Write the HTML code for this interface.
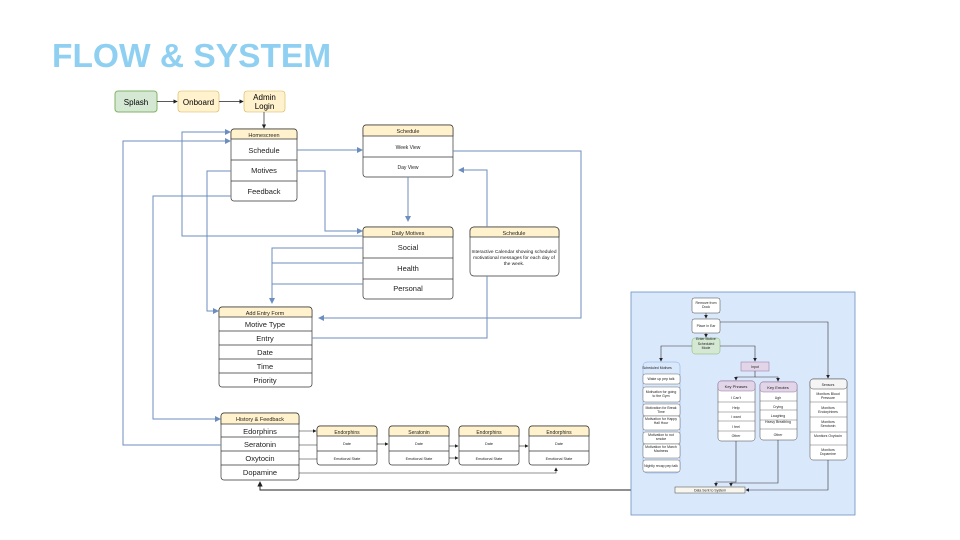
<!DOCTYPE html>
<html><head><meta charset="utf-8"><style>
html,body{margin:0;padding:0;background:#fff;}
svg{display:block;font-family:"Liberation Sans",sans-serif;}
</style></head><body>
<svg width="960" height="540" viewBox="0 0 960 540" xmlns="http://www.w3.org/2000/svg">
<defs>
<marker id="ab" markerWidth="6" markerHeight="6" refX="5" refY="3" orient="auto"><path d="M0,0 L6,3 L0,6 z" fill="#6c8ebf"/></marker>
<marker id="ak" markerWidth="6" markerHeight="6" refX="5" refY="3" orient="auto"><path d="M0,0 L6,3 L0,6 z" fill="#222"/></marker>
</defs>
<text x="52" y="67" font-size="33.5" font-weight="bold" fill="#8fd0f2">FLOW &amp; SYSTEM</text>

<rect x="115" y="91" width="42" height="21" rx="3" fill="#d5e8d4" stroke="#82b366"/>
<text x="136" y="105" font-size="8" text-anchor="middle">Splash</text>
<rect x="178" y="91" width="41" height="21" rx="3" fill="#fff2cc" stroke="#d6b656" stroke-width="0.6"/>
<text x="198.5" y="105" font-size="8" text-anchor="middle">Onboard</text>
<rect x="244" y="91" width="41" height="21" rx="3" fill="#fff2cc" stroke="#d6b656" stroke-width="0.6"/>
<text x="264.5" y="100" font-size="8" text-anchor="middle">Admin</text>
<text x="264.5" y="109" font-size="8" text-anchor="middle">Login</text>
<g stroke="#222" stroke-width="0.7" fill="none">
<line x1="157" y1="101.5" x2="177" y2="101.5" marker-end="url(#ak)"/>
<line x1="219" y1="101.5" x2="243" y2="101.5" marker-end="url(#ak)"/>
<line x1="264" y1="112" x2="264" y2="128" marker-end="url(#ak)"/>
</g>

<g stroke="#333" stroke-width="0.7" fill="#fff">
<rect x="231" y="129" width="66" height="72" rx="3"/>
<path d="M231,139 V132 a3,3 0 0 1 3,-3 H294 a3,3 0 0 1 3,3 V139 Z" fill="#fff2cc"/>
<line x1="231" y1="160" x2="297" y2="160"/><line x1="231" y1="181" x2="297" y2="181"/>
<rect x="363" y="125" width="90" height="52" rx="3"/>
<path d="M363,136 V128 a3,3 0 0 1 3,-3 H450 a3,3 0 0 1 3,3 V136 Z" fill="#fff2cc"/>
<line x1="363" y1="157" x2="453" y2="157"/>
<rect x="363" y="227" width="90" height="72" rx="3"/>
<path d="M363,237 V230 a3,3 0 0 1 3,-3 H450 a3,3 0 0 1 3,3 V237 Z" fill="#fff2cc"/>
<line x1="363" y1="258" x2="453" y2="258"/><line x1="363" y1="279" x2="453" y2="279"/>
<rect x="470" y="227" width="89" height="49" rx="4"/>
<path d="M470,237 V231 a4,4 0 0 1 4,-4 H555 a4,4 0 0 1 4,4 V237 Z" fill="#fff2cc"/>
<rect x="219" y="307" width="93" height="80" rx="3"/>
<path d="M219,317 V310 a3,3 0 0 1 3,-3 H309 a3,3 0 0 1 3,3 V317 Z" fill="#fff2cc"/>
<line x1="219" y1="331" x2="312" y2="331"/><line x1="219" y1="345" x2="312" y2="345"/><line x1="219" y1="359" x2="312" y2="359"/><line x1="219" y1="373" x2="312" y2="373"/>
<rect x="221" y="413" width="78" height="67" rx="3"/>
<path d="M221,424 V416 a3,3 0 0 1 3,-3 H296 a3,3 0 0 1 3,3 V424 Z" fill="#fff2cc"/>
<line x1="221" y1="437" x2="299" y2="437"/><line x1="221" y1="451" x2="299" y2="451"/><line x1="221" y1="465" x2="299" y2="465"/>
<rect x="317" y="426" width="60" height="39" rx="3"/><path d="M317,436 V429 a3,3 0 0 1 3,-3 H374 a3,3 0 0 1 3,3 V436 Z" fill="#fff2cc"/><line x1="317" y1="451" x2="377" y2="451"/>
<rect x="389" y="426" width="60" height="39" rx="3"/><path d="M389,436 V429 a3,3 0 0 1 3,-3 H446 a3,3 0 0 1 3,3 V436 Z" fill="#fff2cc"/><line x1="389" y1="451" x2="449" y2="451"/>
<rect x="459" y="426" width="60" height="39" rx="3"/><path d="M459,436 V429 a3,3 0 0 1 3,-3 H516 a3,3 0 0 1 3,3 V436 Z" fill="#fff2cc"/><line x1="459" y1="451" x2="519" y2="451"/>
<rect x="529" y="426" width="60" height="39" rx="3"/><path d="M529,436 V429 a3,3 0 0 1 3,-3 H586 a3,3 0 0 1 3,3 V436 Z" fill="#fff2cc"/><line x1="529" y1="451" x2="589" y2="451"/>
</g>

<g font-size="7.5" text-anchor="middle" fill="#222">
<text x="264" y="137" font-size="5.5">Homescreen</text>
<text x="264" y="153">Schedule</text><text x="264" y="173">Motives</text><text x="264" y="194">Feedback</text>
<text x="408" y="133" font-size="5.5">Schedule</text>
<text x="408" y="149" font-size="5">Week View</text><text x="408" y="169" font-size="5">Day View</text>
<text x="408" y="235" font-size="5.5">Daily Motives</text>
<text x="408" y="250">Social</text><text x="408" y="271">Health</text><text x="408" y="291">Personal</text>
<text x="514" y="235" font-size="5.5">Schedule</text>
<text x="514" y="253" font-size="4.8">Interactive Calendar showing scheduled</text>
<text x="514" y="259" font-size="4.8">motivational messages for each day of</text>
<text x="514" y="265" font-size="4.8">the week.</text>
<text x="265" y="315" font-size="5.5">Add Entry Form</text>
<text x="265" y="327">Motive Type</text><text x="265" y="341">Entry</text><text x="265" y="355">Date</text><text x="265" y="369">Time</text><text x="265" y="383">Priority</text>
<text x="260" y="421" font-size="5.5">History &amp; Feedback</text>
<text x="260" y="434">Edorphins</text><text x="260" y="447">Seratonin</text><text x="260" y="461">Oxytocin</text><text x="260" y="475">Dopamine</text>
<g font-size="5"><text x="347" y="434">Endorphins</text><text x="419" y="434">Seratonin</text><text x="489" y="434">Endorphins</text><text x="559" y="434">Endorphins</text></g>
<g font-size="3.8"><text x="347" y="445">Date</text><text x="419" y="445">Date</text><text x="489" y="445">Date</text><text x="559" y="445">Date</text>
<text x="347" y="460">Emotional State</text><text x="419" y="460">Emotional State</text><text x="489" y="460">Emotional State</text><text x="559" y="460">Emotional State</text></g>
</g>

<g stroke="#6c8ebf" stroke-width="1" fill="none">
<path d="M297,150 H362" marker-end="url(#ab)"/>
<path d="M408,177 V221" marker-end="url(#ab)"/>
<path d="M363,236 H182 V132 H230" marker-end="url(#ab)"/>
<path d="M123,290 V141 H230" marker-end="url(#ab)"/>
<path d="M297,171 H325 V231 H362" marker-end="url(#ab)"/>
<path d="M231,171 H207 V311 H218" marker-end="url(#ab)"/>
<path d="M231,196 H153 V419 H220" marker-end="url(#ab)"/>
<path d="M123,290 V445 H221"/>
<path d="M363,248 H272 V303" marker-end="url(#ab)"/>
<path d="M363,263 H272"/>
<path d="M363,284 H272"/>
<path d="M453,151 H581 V318 H319" marker-end="url(#ab)"/>
<path d="M487,227 V170 H459" marker-end="url(#ab)"/>
<path d="M487,276 V338 H312"/>
</g>
<g stroke="#222" stroke-width="0.6" fill="none">
<path d="M299,431 H316" marker-end="url(#ak)"/>
<path d="M299,445 H317"/><path d="M299,459 H317"/>
<path d="M377,444 H388" marker-end="url(#ak)"/>
<path d="M449,446 H458" marker-end="url(#ak)"/><path d="M449,458 H458" marker-end="url(#ak)"/>
<path d="M519,446 H528" marker-end="url(#ak)"/>
<path d="M299,473 H556 V468" marker-end="url(#ak)"/>
<path d="M675,490 H260 V482" stroke-width="0.9" marker-end="url(#ak)"/>
</g>

<rect x="631" y="292" width="224" height="223" fill="#dae8fc" stroke="#6c8ebf" stroke-width="0.8"/>
<g stroke="#444" stroke-width="0.5" fill="#fff">
<rect x="692" y="298" width="28" height="15" rx="2"/>
<rect x="692" y="319" width="28" height="14" rx="2"/>
<rect x="692" y="338" width="28" height="16" rx="3" fill="#d5e8d4" stroke="#82b366"/>
<rect x="643" y="362" width="37" height="111" rx="4" fill="#dae8fc" stroke="#7ea6e0"/>
<rect x="741" y="362" width="28" height="9" fill="#e1d5e7" stroke="#9673a6"/>
<rect x="718" y="381" width="37" height="60" rx="3"/>
<rect x="718" y="381" width="37" height="10" rx="3" fill="#e1d5e7" stroke="#9673a6"/>
<rect x="760" y="382" width="37" height="58" rx="3"/>
<rect x="760" y="382" width="37" height="10" rx="3" fill="#e1d5e7" stroke="#9673a6"/>
<rect x="810" y="379" width="37" height="81" rx="3"/>
<rect x="810" y="379" width="37" height="10" rx="3" fill="#f5f5f5"/>
<rect x="675" y="487" width="70" height="6" fill="#f9f7ed"/>
</g>
<g stroke="#444" stroke-width="0.4" fill="#fff">
<rect x="643" y="374" width="37" height="10" rx="2"/><rect x="643" y="387" width="37" height="15" rx="2"/><rect x="643" y="404" width="37" height="12" rx="2"/>
<rect x="643" y="416" width="37" height="14" rx="2"/><rect x="643" y="432" width="37" height="12" rx="2"/><rect x="643" y="444" width="37" height="14" rx="2"/><rect x="643" y="460" width="37" height="12" rx="2"/>
<line x1="718" y1="402" x2="755" y2="402"/><line x1="718" y1="412" x2="755" y2="412"/><line x1="718" y1="421" x2="755" y2="421"/><line x1="718" y1="431" x2="755" y2="431"/>
<line x1="760" y1="401" x2="797" y2="401"/><line x1="760" y1="410" x2="797" y2="410"/><line x1="760" y1="420" x2="797" y2="420"/><line x1="760" y1="429" x2="797" y2="429"/>
<line x1="810" y1="402" x2="847" y2="402"/><line x1="810" y1="417" x2="847" y2="417"/><line x1="810" y1="432" x2="847" y2="432"/><line x1="810" y1="445" x2="847" y2="445"/>
</g>
<g stroke="#333" stroke-width="0.6" fill="none">
<path d="M706,313 V318" marker-end="url(#ak)"/>
<path d="M706,333 V337" marker-end="url(#ak)"/>
<path d="M692,346 H661 V361" marker-end="url(#ak)"/>
<path d="M720,346 H755 V361" marker-end="url(#ak)"/>
<path d="M755,371 V377 H736 V380" marker-end="url(#ak)"/>
<path d="M755,377 H778 V381" marker-end="url(#ak)"/>
<path d="M720,322 H828 V378" marker-end="url(#ak)"/>
<path d="M736,441 V482 H716 V486" marker-end="url(#ak)"/>
<path d="M778,440 V483 H731 V486" marker-end="url(#ak)"/>
<path d="M828,460 V490 H746" marker-end="url(#ak)"/>
</g>
<g font-size="3.5" text-anchor="middle" fill="#222">
<text x="706" y="304">Remove from</text><text x="706" y="308">Dock</text>
<text x="706" y="327">Place in Ear</text>
<text x="706" y="340">Enter Motive</text><text x="706" y="345">Scheduled</text><text x="706" y="349">Mode</text>
<text x="657" y="369">Scheduled Motives</text>
<text x="661" y="380">Wake up pep talk</text>
<text x="661" y="393">Motivation for going</text><text x="661" y="397">to the Gym</text>
<text x="661" y="409">Motivation for Break</text><text x="661" y="413">Time</text>
<text x="661" y="420">Motivation for Happy</text><text x="661" y="424">Hall Hour</text>
<text x="661" y="436">Motivation to not</text><text x="661" y="440">smoke</text>
<text x="661" y="448">Motivation for March</text><text x="661" y="452">Madness</text>
<text x="661" y="467">Nightly recap pep talk</text>
<text x="755" y="368">Input</text>
<text x="736" y="388" font-size="4">Key Phrases</text>
<text x="736" y="399">I Can't</text><text x="736" y="409">Help</text><text x="736" y="418">I want</text><text x="736" y="428">I feel</text><text x="736" y="437">Other</text>
<text x="778" y="389" font-size="4">Key Emotes</text>
<text x="778" y="399">Ugh</text><text x="778" y="408">Crying</text><text x="778" y="417">Laughing</text><text x="778" y="423">Heavy Breathing</text><text x="778" y="436">Other</text>
<text x="828" y="386">Sensors</text>
<text x="828" y="395">Monitors Blood</text><text x="828" y="399">Pressure</text>
<text x="828" y="409">Monitors</text><text x="828" y="413">Endorphines</text>
<text x="828" y="423">Monitors</text><text x="828" y="427">Serotonin</text>
<text x="828" y="437">Monitors Oxytocin</text>
<text x="828" y="451">Monitors</text><text x="828" y="455">Dopamine</text>
<text x="710" y="491.5">Data Sent to System</text>
</g>
</svg>
</body></html>
